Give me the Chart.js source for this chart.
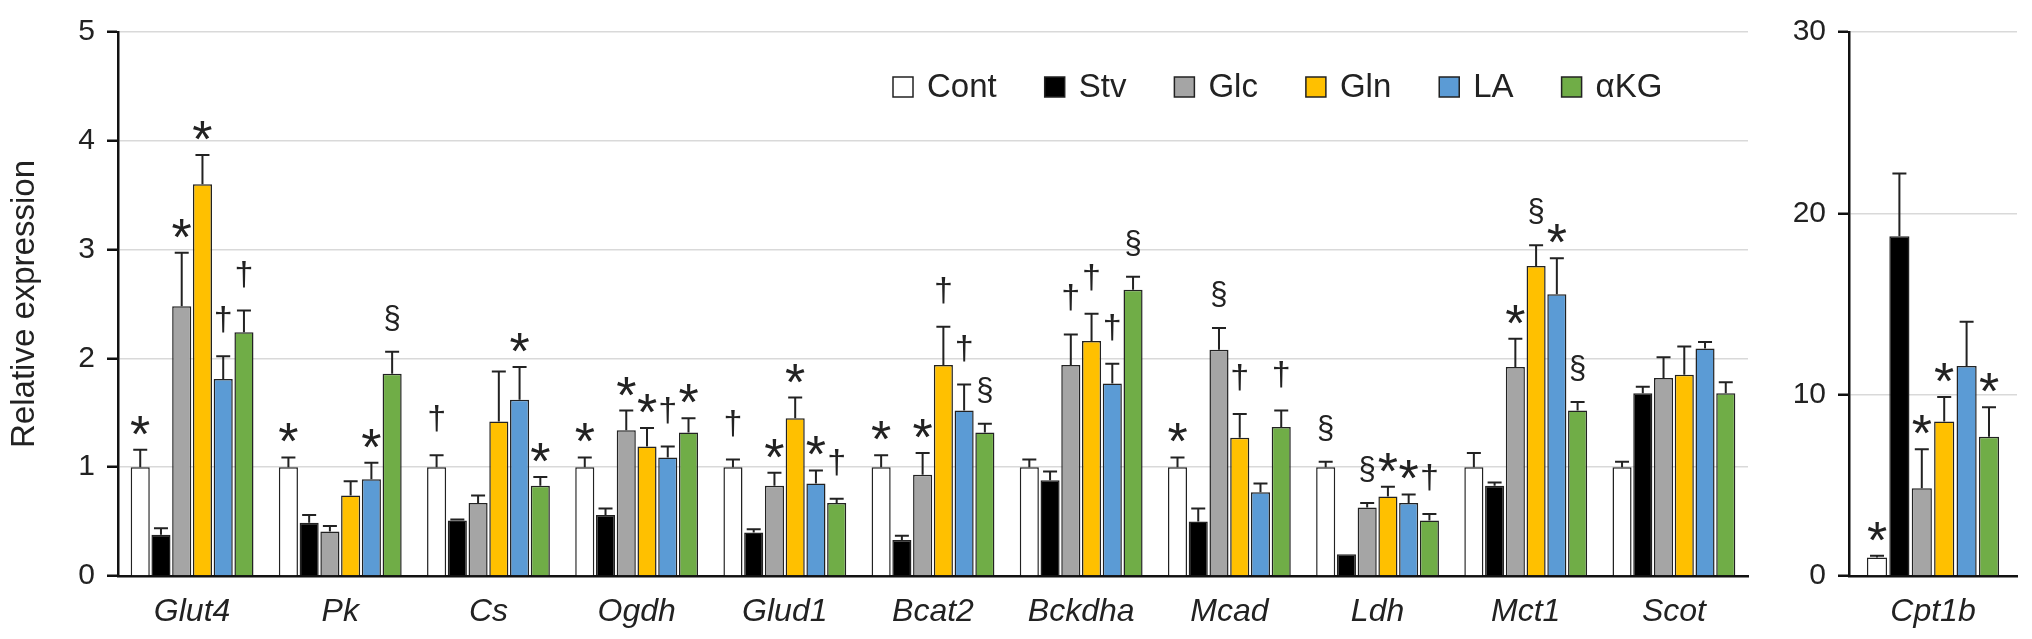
<!DOCTYPE html>
<html>
<head>
<meta charset="utf-8">
<script src="https://cdn.jsdelivr.net/npm/chart.js@4.4.1/dist/chart.umd.min.js"></script>
<style>
    html, body { margin: 0; padding: 0; background: #fff; }
    #wrap { position: relative; width: 2032px; height: 639px; }
    #leftChart { position: absolute; left: 0; top: 0; }
    #rightChart { position: absolute; left: 1760px; top: 0; }
</style>
</head>
<body>
<div id="wrap">
    <canvas id="leftChart" width="1760" height="639" style="width:1760px;height:639px"></canvas>
    <canvas id="rightChart" width="272" height="639" style="width:272px;height:639px"></canvas>
</div>
<script>
// genes on the left panel
const categories = ['Glut4', 'Pk', 'Cs', 'Ogdh', 'Glud1', 'Bcat2', 'Bckdha', 'Mcad', 'Ldh', 'Mct1', 'Scot'];

const contVals = [1.00, 1.00, 1.00, 1.00, 1.00, 1.00, 1.00, 1.00, 1.00, 1.00, 1.00];
const contErr  = [0.16, 0.09, 0.11, 0.09, 0.07, 0.11, 0.07, 0.09, 0.05, 0.13, 0.05];
const contSig  = ['*', '*', '†', '*', '†', '*', '', '*', '§', '', ''];

const stvVals = [0.38, 0.49, 0.51, 0.56, 0.40, 0.33, 0.88, 0.50, 0.20, 0.83, 1.68];
const stvErr  = [0.06, 0.07, 0.01, 0.06, 0.03, 0.04, 0.08, 0.12, 0.00, 0.03, 0.06];
const stvSig  = ['', '', '', '', '', '', '', '', '', '', ''];

const glcVals = [2.48, 0.41, 0.67, 1.34, 0.83, 0.93, 1.94, 2.08, 0.63, 1.92, 1.82];
const glcErr  = [0.49, 0.05, 0.07, 0.18, 0.12, 0.20, 0.28, 0.20, 0.04, 0.26, 0.19];
const glcSig  = ['*', '', '', '*', '*', '*', '†', '§', '§', '*', ''];

const glnVals = [3.60, 0.74, 1.42, 1.19, 1.45, 1.94, 2.16, 1.27, 0.73, 2.85, 1.85];
const glnErr  = [0.27, 0.13, 0.46, 0.17, 0.19, 0.35, 0.25, 0.22, 0.09, 0.19, 0.26];
const glnSig  = ['*', '', '', '*', '*', '†', '†', '†', '*', '§', ''];

const laVals = [1.81, 0.89, 1.62, 1.09, 0.85, 1.52, 1.77, 0.77, 0.67, 2.59, 2.09];
const laErr  = [0.21, 0.15, 0.30, 0.10, 0.12, 0.24, 0.18, 0.08, 0.08, 0.33, 0.06];
const laSig  = ['†', '*', '*', '†', '*', '†', '†', '', '*', '*', ''];

const akgVals = [2.24, 1.86, 0.83, 1.32, 0.67, 1.32, 2.63, 1.37, 0.51, 1.52, 1.68];
const akgErr  = [0.20, 0.20, 0.08, 0.13, 0.04, 0.08, 0.12, 0.15, 0.06, 0.08, 0.10];
const akgSig  = ['†', '§', '*', '*', '†', '§', '§', '†', '†', '§', ''];

// right panel: Cpt1b, one value per group (Cont, Stv, Glc, Gln, LA, aKG)
const cptCategories = ['Cpt1b'];
const cptVals = [1.02, 18.73, 4.84, 8.52, 11.58, 7.68];
const cptErr  = [0.10, 3.47, 2.15, 1.35, 2.44, 1.62];
const cptSig  = ['*', '', '*', '*', '', '*'];

const leftTicks = [0, 1, 2, 3, 4, 5];
const rightTicks = [0, 10, 20, 30];

const groupNames = ['Cont', 'Stv', 'Glc', 'Gln', 'LA', 'αKG'];
const groupColors = ['#ffffff', '#000000', '#a5a5a5', '#ffc000', '#5b9bd5', '#70ad47'];

const FONT = "'Liberation Sans', Arial, Helvetica, sans-serif";
const INK = '#222';

// glyph size and baseline shift for each significance mark
const markStyle = {
    '*': { size: 52, dy: 2 },
    '†': { size: 34, dy: -26 },
    '§': { size: 31, dy: -24 }
};

const errorBars = {
    id: 'errorBars',
    afterDatasetsDraw(chart) {
        const ctx = chart.ctx;
        const yScale = chart.scales.y;
        chart.data.datasets.forEach((ds, i) => {
            const meta = chart.getDatasetMeta(i);
            meta.data.forEach((bar, j) => {
                const err = ds.errors[j];
                const top = yScale.getPixelForValue(ds.data[j] + err);
                ctx.save();
                if (err > 0) {
                    ctx.strokeStyle = INK;
                    ctx.lineWidth = 2;
                    ctx.beginPath();
                    ctx.moveTo(bar.x, bar.y);
                    ctx.lineTo(bar.x, top);
                    ctx.moveTo(bar.x - 7, top);
                    ctx.lineTo(bar.x + 7, top);
                    ctx.stroke();
                }
                const mark = ds.marks[j];
                if (mark) {
                    const st = markStyle[mark];
                    ctx.fillStyle = INK;
                    ctx.font = st.size + 'px ' + FONT;
                    ctx.textAlign = 'center';
                    ctx.textBaseline = 'alphabetic';
                    ctx.fillText(mark, bar.x, top + st.dy);
                }
                ctx.restore();
            });
        });
    }
};

const legendBox = {
    id: 'legendBox',
    afterDraw(chart, args, opts) {
        if (!opts.show) return;
        const ctx = chart.ctx;
        let x = opts.x;
        const y = opts.y;
        ctx.save();
        ctx.font = '33px ' + FONT;
        ctx.textBaseline = 'middle';
        ctx.textAlign = 'left';
        chart.data.datasets.forEach(ds => {
            ctx.fillStyle = ds.backgroundColor;
            ctx.fillRect(x, y - 10, 20, 20);
            ctx.strokeStyle = INK;
            ctx.lineWidth = 1.5;
            ctx.strokeRect(x, y - 10, 20, 20);
            ctx.fillStyle = INK;
            ctx.fillText(ds.label, x + 34, y + 1);
            x += 34 + ctx.measureText(ds.label).width + 48;
        });
        ctx.restore();
    }
};

function makeDatasets(valueSets, errSets, sigSets) {
    return groupNames.map((name, i) => ({
        label: name,
        data: valueSets[i],
        errors: errSets[i],
        marks: sigSets[i],
        backgroundColor: groupColors[i],
        borderColor: INK,
        borderWidth: 1.5,
        borderSkipped: 'bottom'
    }));
}

function axisOptions(maxVal, stepVal, yWidth, withTitle, ticksList) {
    return {
        x: {
            grid: { display: false, drawTicks: false },
            border: { display: true, color: '#111', width: 2.5 },
            ticks: {
                font: { family: FONT, size: 32, style: 'italic' },
                color: INK,
                padding: 17,
                maxRotation: 0,
                autoSkip: false
            },
            afterFit(scale) { scale.height = 639 - 576; }
        },
        y: {
            min: 0,
            max: maxVal,
            afterBuildTicks(scale) { scale.ticks = ticksList.map(v => ({ value: v })); },
            ticks: {
                stepSize: stepVal,
                font: { family: FONT, size: 30 },
                color: INK,
                padding: 12
            },
            grid: {
                color: '#d9d9d9',
                lineWidth: 1.5,
                tickLength: 11,
                tickColor: '#111',
                tickWidth: 2.5
            },
            border: { color: '#111', width: 2.5 },
            title: {
                display: withTitle,
                text: 'Relative expression',
                font: { family: FONT, size: 33 },
                color: INK,
                padding: { top: 5, bottom: 0 }
            },
            afterFit(scale) { scale.width = yWidth; }
        }
    };
}

new Chart(document.getElementById('leftChart'), {
    type: 'bar',
    data: {
        labels: categories,
        datasets: makeDatasets(
            [contVals, stvVals, glcVals, glnVals, laVals, akgVals],
            [contErr, stvErr, glcErr, glnErr, laErr, akgErr],
            [contSig, stvSig, glcSig, glnSig, laSig, akgSig]
        )
    },
    options: {
        responsive: false,
        animation: false,
        devicePixelRatio: 1,
        categoryPercentage: 0.84,
        barPercentage: 0.92,
        layout: { padding: { left: 0, right: 12, top: 32, bottom: 0 } },
        plugins: {
            legend: { display: false },
            tooltip: { enabled: false },
            legendBox: { show: true, x: 893, y: 87 }
        },
        scales: axisOptions(5, 1, 118, true, leftTicks)
    },
    plugins: [errorBars, legendBox]
});

new Chart(document.getElementById('rightChart'), {
    type: 'bar',
    data: {
        labels: cptCategories,
        datasets: makeDatasets(
            cptVals.map(v => [v]),
            cptErr.map(v => [v]),
            cptSig.map(v => [v])
        )
    },
    options: {
        responsive: false,
        animation: false,
        devicePixelRatio: 1,
        categoryPercentage: 0.8,
        barPercentage: 0.9,
        layout: { padding: { left: 0, right: 15, top: 32, bottom: 0 } },
        plugins: {
            legend: { display: false },
            tooltip: { enabled: false },
            legendBox: { show: false }
        },
        scales: axisOptions(30, 10, 89, false, rightTicks)
    },
    plugins: [errorBars, legendBox]
});
</script>
</body>
</html>
